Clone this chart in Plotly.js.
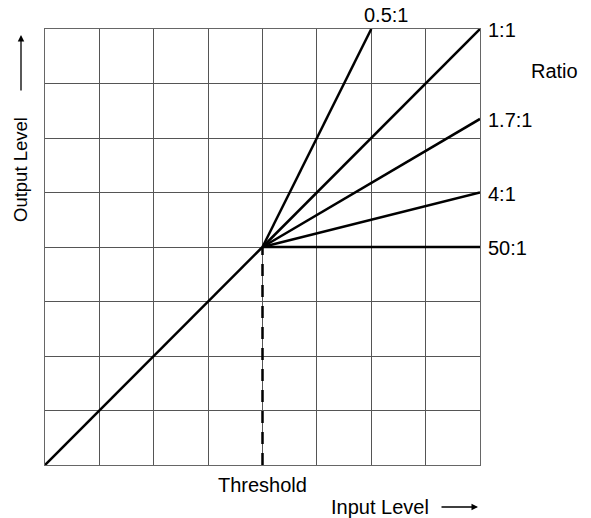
<!DOCTYPE html>
<html><head><meta charset="utf-8">
<script src="https://cdn.plot.ly/plotly-3.0.1.min.js"></script>
<style>html,body{margin:0;padding:0;background:#fff}#c{width:591px;height:518px}</style>
</head><body><div id="c"></div>
<script>
// Threshold (input, output) in grid units
const threshold = [4, 4];
const ratioLabels = ["0.5:1", "1:1", "1.7:1", "4:1", "50:1"];
const endX = [6, 8, 8, 8, 8];
const endY = [8, 8, 6.35, 5, 4];
const diagX = [0, 4];
const diagY = [0, 4];
const dashX = [4, 4];
const dashY = [0, 4];

const FONT = 'Liberation Sans, Arial, sans-serif';
const F = {family: FONT, size: 20, color: '#000'};
const traces = [];
traces.push({x: diagX, y: diagY, mode: 'lines', line: {color: '#000', width: 2.5}, hoverinfo: 'skip'});
for (let i = 0; i < ratioLabels.length; i++) {
  traces.push({x: [threshold[0], endX[i]], y: [threshold[1], endY[i]], mode: 'lines',
    line: {color: '#000', width: 2.5}, hoverinfo: 'skip'});
}
traces.push({x: dashX, y: dashY, mode: 'lines', line: {color: '#000', width: 2.5, dash: '12px,9px'}, hoverinfo: 'skip'});

// pixel -> paper helpers (plot area: x 45..480, y 29..465)
const px = v => (v - 45) / 435;
const py = v => (465 - v) / 436;

const annotations = [];
for (let i = 0; i < ratioLabels.length; i++) {
  if (endX[i] < 8) {
    annotations.push({x: endX[i], y: endY[i], xref: 'x', yref: 'y', text: ratioLabels[i],
      showarrow: false, xanchor: 'center', yanchor: 'middle', xshift: 15, yshift: 14, font: F});
  } else {
    annotations.push({x: endX[i], y: endY[i], xref: 'x', yref: 'y', text: ratioLabels[i],
      showarrow: false, xanchor: 'left', yanchor: 'middle', xshift: 6, yshift: -1, font: F});
  }
}
annotations.push({x: px(529), y: py(71), xref: 'paper', yref: 'paper', text: 'Ratio', showarrow: false,
  xanchor: 'left', yanchor: 'middle', font: F});
annotations.push({x: px(262), y: py(485), xref: 'paper', yref: 'paper', text: 'Threshold', showarrow: false,
  xanchor: 'center', yanchor: 'middle', font: F});
annotations.push({x: px(329), y: py(507), xref: 'paper', yref: 'paper', text: 'Input Level', showarrow: false,
  xanchor: 'left', yanchor: 'middle', font: F});
annotations.push({x: px(478), y: py(507), xref: 'paper', yref: 'paper', ax: -38, ay: 0,
  text: '', showarrow: true, arrowhead: 2, arrowsize: 1, arrowwidth: 1.3, arrowcolor: '#000'});
annotations.push({x: px(20), y: py(170), xref: 'paper', yref: 'paper', text: 'Output Level', showarrow: false,
  textangle: -90, xanchor: 'center', yanchor: 'middle', font: {family: FONT, size: 18.5, color: '#000'}});
annotations.push({x: px(21), y: py(35), xref: 'paper', yref: 'paper', ax: 0, ay: 57,
  text: '', showarrow: true, arrowhead: 2, arrowsize: 1, arrowwidth: 1.3, arrowcolor: '#000'});

const ax = {range: [0, 8], dtick: 1, tick0: 0, showgrid: true, gridcolor: '#555', gridwidth: 1,
  showline: true, mirror: true, linecolor: '#666', linewidth: 1, zeroline: false, showticklabels: false, ticks: '', fixedrange: true};
const layout = {width: 591, height: 518, margin: {l: 45, r: 111, t: 29, b: 53},
  paper_bgcolor: '#fff', plot_bgcolor: '#fff', showlegend: false,
  xaxis: Object.assign({}, ax), yaxis: Object.assign({}, ax), annotations: annotations};
Plotly.newPlot('c', traces, layout, {staticPlot: true});
</script></body></html>
